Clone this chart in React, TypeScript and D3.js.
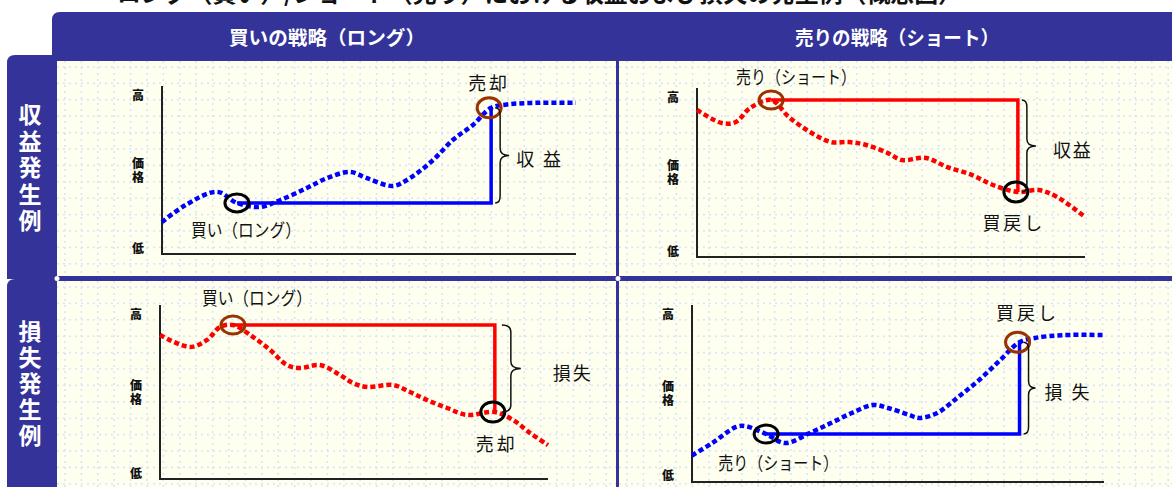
import React from 'react';
import * as d3 from 'd3';

type Pt = [number, number];

// text
const TITLE = '・ロング（買い）/ショート（売り）における収益および損失の発生例（概念図）';
const COLUMN_HEADERS = ['買いの戦略（ロング）', '売りの戦略（ショート）'];
const ROW_HEADERS = ['収益発生例', '損失発生例'];
const AXIS_HIGH = '高';
const AXIS_PRICE = '価格';
const AXIS_LOW = '低';

// price paths, [time 0-100, price 0-100]
const longProfitPath: Pt[] = [
  [0, 19], [5.6, 29], [13.3, 37], [18.1, 30.4], [23.7, 28], [28.5, 32], [35, 39.3],
  [39.9, 45.2], [45.4, 48.8], [49.5, 45.2], [55.8, 40.5], [59.9, 45.2], [65.5, 56],
  [70.3, 68], [75.1, 76.8], [79.5, 87], [83.3, 89], [90.6, 90], [100, 90],
];
const shortProfitPath: Pt[] = [
  [0, 87], [6.4, 79.3], [10, 79.9], [13.7, 88.2], [19.1, 92.9], [23.7, 82.8], [29.1, 74],
  [34.5, 68], [39.2, 68], [43.6, 66.3], [49.2, 61.5], [52.8, 57.4], [59, 58.6],
  [64.4, 53.3], [70.9, 48.5], [76.3, 42.6], [82.7, 38.5], [88.1, 39.6], [92.8, 35.5], [100, 23.7],
];
const longLossPath: Pt[] = [
  [0, 82.8], [7.7, 75.9], [12.1, 79.9], [15.5, 87.4], [18.8, 88.5], [24, 81.6], [28.4, 74.1],
  [32.7, 65.5], [36.1, 63.8], [41.2, 65.5], [46.4, 59.8], [49.7, 55.2], [53.4, 52.9],
  [60.1, 54], [64.4, 50], [68.8, 45.4], [74, 40.8], [79.1, 36.8], [86.3, 38.5],
  [91, 33.9], [95.4, 26.4], [100, 19.5],
];
const shortLossPath: Pt[] = [
  [0, 15], [4.9, 22], [10.7, 31.1], [12.9, 31.6], [18, 27.1], [22.6, 22], [28.6, 27.7],
  [33.7, 33.3], [38.8, 39], [43.9, 43.5], [47.6, 41.8], [52.7, 37.9], [55.1, 36.2],
  [59.5, 39], [64.6, 48], [69.7, 57.6], [74.8, 68.9], [79.5, 79], [83.3, 81.4], [90.3, 83], [100, 83],
];

// [entry, exit] as [time, price]
const longProfitTrade: Pt[] = [[18.1, 30.4], [79.5, 87]];
const shortProfitTrade: Pt[] = [[19.1, 92.9], [82.7, 38.5]];
const longLossTrade: Pt[] = [[18.8, 88.5], [86.3, 38.5]];
const shortLossTrade: Pt[] = [[18, 27.1], [79.5, 79]];

const NAVY = '#333399';
const CREAM = '#ffffef';
const GRID = '#d9e5f6';
const BLUE = '#0000ff';
const RED = '#ff0000';
const BROWN = '#993300';
const FONT = "'Noto Sans CJK JP', 'Noto Sans', sans-serif";

const panels = [
  {
    id: 'tl', rect: [57, 61, 616, 276], axis: [162, 576, 254, 86],
    path: longProfitPath, trade: longProfitTrade, color: BLUE, entryRing: '#000', exitRing: BROWN,
    entryLabel: '買い（ロング）', entryLen: 110, entryOff: [9, 26],
    exitLabel: '売却', exitOff: [-2, -26],
    result: '収益', resultSpacing: 9, braceDx: 4, braceW: 5, braceTip: 9, resultDx: 25,
  },
  {
    id: 'tr', rect: [619, 61, 1172, 276], axis: [697, 1085, 257, 88],
    path: shortProfitPath, trade: shortProfitTrade, color: RED, entryRing: BROWN, exitRing: '#000',
    entryLabel: '売り（ショート）', entryLen: 120, entryOff: [25, -24],
    exitLabel: '買戻し', exitOff: [-4, 30],
    result: '収益', resultSpacing: 2, braceDx: 4, braceW: 5, braceTip: 9, resultDx: 35,
  },
  {
    id: 'bl', rect: [57, 281, 616, 487], axis: [160, 548, 479, 305],
    path: longLossPath, trade: longLossTrade, color: RED, entryRing: BROWN, exitRing: '#000',
    entryLabel: '買い（ロング）', entryLen: 110, entryOff: [24, -28],
    exitLabel: '売却', exitOff: [2, 31],
    result: '損失', resultSpacing: 2, braceDx: 7, braceW: 9, braceTip: 10, resultDx: 58,
  },
  {
    id: 'br', rect: [619, 281, 1172, 487], axis: [692, 1104, 482, 305],
    path: shortLossPath, trade: shortLossTrade, color: BLUE, entryRing: '#000', exitRing: BROWN,
    entryLabel: '売り（ショート）', entryLen: 120, entryOff: [12, 28],
    exitLabel: '買戻し', exitOff: [8, -30],
    result: '損失', resultSpacing: 9, braceDx: 4, braceW: 5, braceTip: 7, resultDx: 25,
  },
];

function bracePath(bx: number, top: number, bottom: number, w: number, tip: number) {
  const mid = (top + bottom) / 2;
  const r = Math.min(7, (bottom - top) / 5);
  const p = d3.path();
  p.moveTo(bx, top);
  p.quadraticCurveTo(bx + w, top, bx + w, top + r);
  p.lineTo(bx + w, mid - r);
  p.quadraticCurveTo(bx + w, mid, bx + w + tip, mid);
  p.quadraticCurveTo(bx + w, mid, bx + w, mid + r);
  p.lineTo(bx + w, bottom - r);
  p.quadraticCurveTo(bx + w, bottom, bx, bottom);
  return p.toString();
}

function Panel({ cfg }: { cfg: typeof panels[number] }) {
  const [x0, x1, yB, yT] = cfg.axis;
  const x = d3.scaleLinear().domain([0, 100]).range([x0, x1]);
  const y = d3.scaleLinear().domain([0, 100]).range([yB, yT]);
  const line = d3.line<Pt>().x(d => x(d[0])).y(d => y(d[1])).curve(d3.curveCatmullRom.alpha(0.5));
  const [entry, exit] = cfg.trade;
  const ex = x(entry[0]), ey = y(entry[1]);
  const xx = x(exit[0]), xy = y(exit[1]);
  const top = Math.min(ey, xy), bottom = Math.max(ey, xy);
  const bx = xx + cfg.braceDx;
  const mid = (top + bottom) / 2;
  const [rx0, ry0, rx1, ry1] = cfg.rect;

  const gx = d3.range(rx0 + 8, rx1, 16.4);
  const gy = d3.range(ry0 + 6, ry1, 16.4);

  return (
    <g>
      <rect x={rx0} y={ry0} width={rx1 - rx0} height={ry1 - ry0} fill={CREAM} />
      <g stroke={GRID} strokeWidth={1.6} strokeDasharray="2 4">
        {gx.map(v => <line key={'x' + v} x1={v} x2={v} y1={ry0} y2={ry1} />)}
        {gy.map(v => <line key={'y' + v} x1={rx0} x2={rx1} y1={v} y2={v} />)}
      </g>
      <path d={`M${x0},${yT}V${yB}H${x1}`} fill="none" stroke="#222" strokeWidth={2} />
      <g fontFamily={FONT} fontWeight={900} fontSize={12} fill="#111">
        <text x={x0 - 24} y={y(95)} textAnchor="middle" dominantBaseline="central">{AXIS_HIGH}</text>
        <text x={x0 - 24} y={y(50) - 13} letterSpacing={2} style={{ writingMode: 'vertical-rl' }}>{AXIS_PRICE}</text>
        <text x={x0 - 24} y={y(4)} textAnchor="middle" dominantBaseline="central">{AXIS_LOW}</text>
      </g>
      <path d={line(cfg.path) ?? ''} fill="none" stroke={cfg.color} strokeWidth={4.5} strokeDasharray="5 3" />
      <path d={`M${ex},${ey}H${xx}V${xy}`} fill="none" stroke={cfg.color} strokeWidth={3.5} />
      <ellipse cx={ex} cy={ey} rx={12} ry={9} fill="none" stroke={cfg.entryRing} strokeWidth={3} />
      <ellipse cx={xx - 2} cy={xy} rx={12} ry={10} fill="none" stroke={cfg.exitRing} strokeWidth={3} />
      <path d={bracePath(bx, top, bottom, cfg.braceW, cfg.braceTip)} fill="none" stroke="#111" strokeWidth={1.5} />
      <g fontFamily={FONT} fontSize={18} fill="#111" dominantBaseline="central">
        <text x={ex + cfg.entryOff[0]} y={ey + cfg.entryOff[1]} textAnchor="middle"
          textLength={cfg.entryLen} lengthAdjust="spacingAndGlyphs">{cfg.entryLabel}</text>
        <text x={xx + cfg.exitOff[0]} y={xy + cfg.exitOff[1]} textAnchor="middle" letterSpacing={3}>{cfg.exitLabel}</text>
        <text x={xx + cfg.resultDx} y={mid + 3} letterSpacing={cfg.resultSpacing}>{cfg.result}</text>
      </g>
    </g>
  );
}

export default function App() {
  return (
    <div style={{ position: 'absolute', left: 0, top: 0 }}>
      <svg width={1172} height={487} style={{ display: 'block', background: '#fff' }}>
        <text x={93} y={2} fontFamily={FONT} fontWeight={700} fontSize={24} fill="#111"
          textLength={869} lengthAdjust="spacingAndGlyphs">{TITLE}</text>

        <path d="M52,61V20Q52,12 60,12H1172V61Z" fill={NAVY} />
        <rect x={50} y={55} width={1122} height={432} fill={NAVY} />
        <path d="M7,279V63Q7,55 15,55H60V279Z" fill={NAVY} />
        <path d="M7,487V287Q7,279 15,279H60V487Z" fill={NAVY} />

        <g fontFamily={FONT} fontWeight={700} fontSize={19} fill="#fff" textAnchor="middle" dominantBaseline="central">
          <text x={327} y={36} textLength={196} lengthAdjust="spacingAndGlyphs">{COLUMN_HEADERS[0]}</text>
          <text x={897} y={36} textLength={204} lengthAdjust="spacingAndGlyphs">{COLUMN_HEADERS[1]}</text>
        </g>

        <g fontFamily={FONT} fontWeight={700} fontSize={23} fill="#fff" style={{ writingMode: 'vertical-rl' }}>
          <text x={30} y={103} letterSpacing={3.5}>{ROW_HEADERS[0]}</text>
          <text x={30} y={320} letterSpacing={3}>{ROW_HEADERS[1]}</text>
        </g>

        {panels.map(p => <Panel key={p.id} cfg={p} />)}

        <g fill="#fff">
          <circle cx={618} cy={278.5} r={2.5} />
          <circle cx={57} cy={278.5} r={2.5} />
        </g>
      </svg>
    </div>
  );
}
